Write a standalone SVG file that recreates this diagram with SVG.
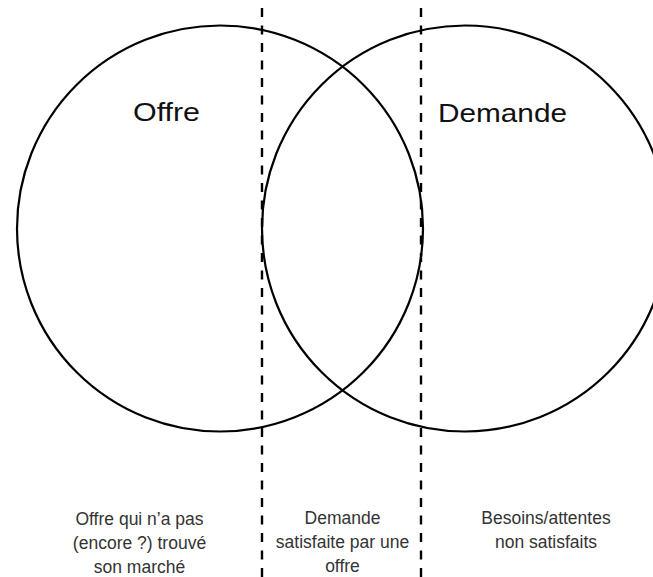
<svg xmlns="http://www.w3.org/2000/svg" width="653" height="577" viewBox="0 0 653 577">
<style>
.circle{fill:none;stroke:#000;stroke-width:2.2}
.divider{stroke:#000;stroke-width:2.4;stroke-dasharray:9 8.5;fill:none}
.title{font-family:"Liberation Sans",Arial,sans-serif;font-size:25px;fill:#111}
.label{font-family:"Liberation Sans",Arial,sans-serif;font-size:17.5px;fill:#333;text-anchor:middle}
</style>
<rect width="653" height="577" fill="#fff"/>
<g id="offre">
<circle class="circle" cx="220" cy="228.5" r="203"/>
<text class="title" x="133" y="121" textLength="67" lengthAdjust="spacingAndGlyphs">Offre</text>
</g>
<g id="demande">
<circle class="circle" cx="465" cy="228.5" r="203"/>
<text class="title" x="438" y="122" textLength="129" lengthAdjust="spacingAndGlyphs">Demande</text>
</g>
<g id="connectors">
<line class="divider" x1="262" y1="-9.5" x2="262" y2="577"/>
<line class="divider" x1="421" y1="-9.5" x2="421" y2="577"/>
</g>
<g id="label-offre">
<text class="label" x="139.5" y="525">Offre qui n’a pas</text>
<text class="label" x="139.5" y="549">(encore ?) trouvé</text>
<text class="label" x="139.5" y="573">son marché</text>
</g>
<g id="label-demande-satisfaite">
<text class="label" x="342.5" y="524">Demande</text>
<text class="label" x="342.5" y="548">satisfaite par une</text>
<text class="label" x="342.5" y="572">offre</text>
</g>
<g id="label-besoins">
<text class="label" x="546" y="524">Besoins/attentes</text>
<text class="label" x="546" y="548">non satisfaits</text>
</g>
</svg>
